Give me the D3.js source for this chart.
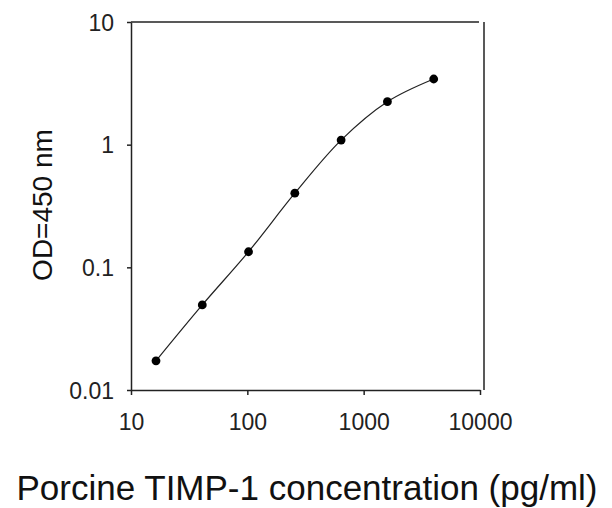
<!DOCTYPE html>
<html><head><meta charset="utf-8">
<script src="https://cdn.jsdelivr.net/npm/d3@7"></script>
<style>body{margin:0;background:#fff}svg{display:block}</style>
</head><body>
<script>
const concentration = [16.4, 41, 102.4, 256, 640, 1600, 4000];
const od = [0.0173, 0.0494, 0.134, 0.402, 1.09, 2.24, 3.43];
const xTicks = [10, 100, 1000, 10000];
const xTickLabels = ["10", "100", "1000", "10000"];
const yTicks = [0.01, 0.1, 1, 10];
const yTickLabels = ["0.01", "0.1", "1", "10"];
const xTitle = "Porcine TIMP-1 concentration (pg/ml)";
const yTitle = "OD=450 nm";

const W = 612, H = 508;
const svg = d3.select("body").append("svg").attr("width", W).attr("height", H);
const x = d3.scaleLog().domain([10, 10000]).range([131, 480]);
const y = d3.scaleLog().domain([0.01, 10]).range([390, 22]);
const font = "Liberation Sans, Arial, sans-serif";
const ink = "#222";

// frame top & right
svg.append("line").attr("x1", x(10)).attr("x2", x(10000) - 1).attr("y1", y(10)).attr("y2", y(10))
  .attr("stroke", ink).attr("stroke-width", 1.5);
svg.append("line").attr("x1", x(10000) + 4).attr("x2", x(10000) + 4).attr("y1", y(10)).attr("y2", y(0.01))
  .attr("stroke", ink).attr("stroke-width", 1.5);

// axes
const xAxis = svg.append("g").attr("transform", `translate(0,${y(0.01)})`)
  .call(d3.axisBottom(x).tickValues(xTicks).tickSize(5).tickSizeOuter(0).tickFormat((d, i) => xTickLabels[i]));
const yAxis = svg.append("g").attr("transform", `translate(${x(10)},0)`)
  .call(d3.axisLeft(y).tickValues(yTicks).tickSize(4).tickSizeOuter(0).tickFormat((d, i) => yTickLabels[i]));
[xAxis, yAxis].forEach(g => {
  g.select(".domain").attr("stroke", ink).attr("stroke-width", 1.5);
  g.selectAll(".tick line").attr("stroke", ink).attr("stroke-width", 1.5);
  g.selectAll("text").attr("font-family", font).attr("font-size", 23).attr("fill", "#222");
});
xAxis.selectAll("text").attr("dy", null).attr("y", 40);
yAxis.selectAll("text").attr("x", -17).attr("dy", "0.35em");

// curve
const pts = concentration.map((c, i) => [x(c), y(od[i])]);
svg.append("path").attr("d", d3.line().curve(d3.curveCatmullRom.alpha(0.5))(pts))
  .attr("fill", "none").attr("stroke", ink).attr("stroke-width", 1.2);
svg.selectAll("circle.pt").data(pts).join("circle").attr("class", "pt")
  .attr("cx", d => d[0]).attr("cy", d => d[1]).attr("r", 4.4).attr("fill", "#000");

// titles
svg.append("text").attr("x", 307).attr("y", 500).attr("text-anchor", "middle")
  .attr("font-family", font).attr("font-size", 35).attr("fill", "#111").text(xTitle);
svg.append("text").attr("transform", `translate(52,${205}) rotate(-90)`).attr("text-anchor", "middle")
  .attr("font-family", font).attr("font-size", 28).attr("fill", "#111").text(yTitle);
</script>
</body></html>
